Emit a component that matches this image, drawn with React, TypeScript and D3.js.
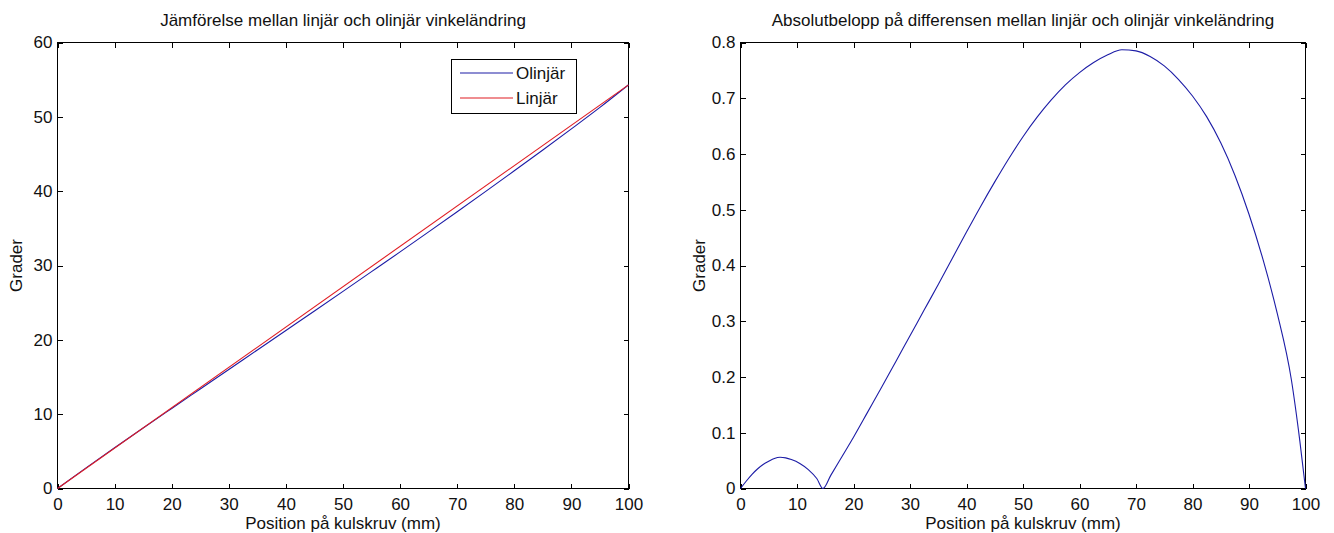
import React, { useEffect, useRef } from "react";
import * as d3 from "d3";

// ---- Data ----
const xTicks = [0, 10, 20, 30, 40, 50, 60, 70, 80, 90, 100];
const leftYTicks = [0, 10, 20, 30, 40, 50, 60];
const rightYTicks = [0, 0.1, 0.2, 0.3, 0.4, 0.5, 0.6, 0.7, 0.8];

// Linjär (straight line)
const linX = [0, 100];
const linY = [0, 54.3];

// Olinjär
const olinX = [0, 5, 10, 15, 20, 25, 30, 35, 40, 45, 50, 55, 60, 65, 70, 75, 80, 85, 90, 95, 100];
const olinY = [0, 2.77, 5.48, 8.14, 10.77, 13.39, 16.01, 18.64, 21.26, 23.88, 26.52, 29.17, 31.83, 34.52, 37.23, 39.97, 42.74, 45.54, 48.38, 51.27, 54.3];

// Absolute difference
const diffX = [0, 1, 2, 3, 4, 5, 6, 7, 8, 9, 10.5, 12, 13.5, 14.6, 16, 18, 20, 22.5, 25, 27.5, 30, 32.5, 35, 37.5, 40, 42.5, 45, 47.5, 50, 52.5, 55, 57.5, 60, 62.5, 65, 67.5, 70, 72.5, 75, 77.5, 80, 82.5, 85, 87.5, 90, 92.5, 95, 97.5, 99, 100];
const diffY = [0, 0.013, 0.025, 0.035, 0.043, 0.049, 0.054, 0.056, 0.055, 0.052, 0.045, 0.034, 0.018, 0, 0.024, 0.058, 0.092, 0.137, 0.182, 0.228, 0.274, 0.320, 0.366, 0.413, 0.460, 0.506, 0.550, 0.592, 0.631, 0.666, 0.697, 0.724, 0.746, 0.764, 0.778, 0.787, 0.785, 0.775, 0.758, 0.734, 0.704, 0.667, 0.620, 0.562, 0.492, 0.410, 0.314, 0.195, 0.085, 0];

const titleLeft = "Jämförelse mellan linjär och olinjär vinkeländring";
const titleRight = "Absolutbelopp på differensen mellan linjär och olinjär vinkeländring";
const xLabel = "Position på kulskruv (mm)";
const yLabel = "Grader";
const legendNames = ["Olinjär", "Linjär"];

const BLUE = "#1c1ca6";
const RED = "#e01c22";
const FONT = "'Liberation Sans', Arial, sans-serif";
const FS = 17;

export default function App() {
  const ref = useRef<SVGSVGElement | null>(null);

  useEffect(() => {
    const svg = d3.select(ref.current);
    svg.selectAll("*").remove();
    svg.append("rect").attr("width", 1334).attr("height", 533).attr("fill", "#fff");

    const drawPanel = (
      box: { l: number; r: number; t: number; b: number },
      yDomain: [number, number],
      yTicks: number[],
      yFmt: (v: number) => string,
      title: string
    ) => {
      const x = d3.scaleLinear().domain([0, 100]).range([box.l, box.r]);
      const y = d3.scaleLinear().domain(yDomain).range([box.b, box.t]);
      const g = svg.append("g");

      const style = (sel: any) => {
        sel.select(".domain").remove();
        sel.selectAll(".tick line").attr("stroke", "#000").attr("shape-rendering", "crispEdges");
        sel.selectAll(".tick text")
          .attr("font-family", FONT)
          .attr("font-size", FS)
          .attr("fill", "#111");
      };

      g.append("g").attr("transform", `translate(0,${box.b})`)
        .call(d3.axisBottom(x).tickValues(xTicks).tickSize(-5).tickPadding(9).tickFormat(d3.format("d")))
        .call(style);
      g.append("g").attr("transform", `translate(0,${box.t})`)
        .call(d3.axisTop(x).tickValues(xTicks).tickSize(-5).tickFormat(() => ""))
        .call(style);
      g.append("g").attr("transform", `translate(${box.l},0)`)
        .call(d3.axisLeft(y).tickValues(yTicks).tickSize(-5).tickPadding(5).tickFormat(yFmt as any))
        .call(style);
      g.append("g").attr("transform", `translate(${box.r},0)`)
        .call(d3.axisRight(y).tickValues(yTicks).tickSize(-5).tickFormat(() => ""))
        .call(style);

      g.append("rect")
        .attr("x", box.l).attr("y", box.t)
        .attr("width", box.r - box.l).attr("height", box.b - box.t)
        .attr("fill", "none").attr("stroke", "#000").attr("stroke-width", 1)
        .attr("shape-rendering", "crispEdges");

      g.append("text").attr("x", (box.l + box.r) / 2).attr("y", 26)
        .attr("text-anchor", "middle").attr("font-family", FONT).attr("font-size", FS)
        .attr("fill", "#111").text(title);
      g.append("text").attr("x", (box.l + box.r) / 2).attr("y", 529)
        .attr("text-anchor", "middle").attr("font-family", FONT).attr("font-size", FS)
        .attr("fill", "#111").text(xLabel);
      g.append("text")
        .attr("transform", `translate(${box.l - 36},${(box.t + box.b) / 2}) rotate(-90)`)
        .attr("text-anchor", "middle").attr("font-family", FONT).attr("font-size", FS)
        .attr("fill", "#111").text(yLabel);
      return { x, y, g };
    };

    // Left panel
    const L = drawPanel({ l: 57.5, r: 628.5, t: 42.5, b: 488.5 }, [0, 60], leftYTicks, d3.format("d"), titleLeft);
    const lineL = d3.line<[number, number]>().x((d) => L.x(d[0])).y((d) => L.y(d[1])).curve(d3.curveMonotoneX);
    L.g.append("path").datum(olinX.map((v, i) => [v, olinY[i]] as [number, number]))
      .attr("d", lineL).attr("fill", "none").attr("stroke", BLUE).attr("stroke-width", 1.1);
    L.g.append("path").datum(linX.map((v, i) => [v, linY[i]] as [number, number]))
      .attr("d", lineL).attr("fill", "none").attr("stroke", RED).attr("stroke-width", 1.1);

    // Legend
    const lg = L.g.append("g");
    lg.append("rect").attr("x", 451.5).attr("y", 59.5).attr("width", 125).attr("height", 54)
      .attr("fill", "#fff").attr("stroke", "#000").attr("shape-rendering", "crispEdges");
    [BLUE, RED].forEach((c, i) => {
      const yy = 73 + i * 25;
      lg.append("line").attr("x1", 460).attr("x2", 513).attr("y1", yy).attr("y2", yy)
        .attr("stroke", c).attr("stroke-width", 1.1);
      lg.append("text").attr("x", 516).attr("y", yy + 6).attr("font-family", FONT)
        .attr("font-size", FS).attr("fill", "#111").text(legendNames[i]);
    });

    // Right panel
    const R = drawPanel({ l: 740.5, r: 1305.5, t: 42.5, b: 488.5 }, [0, 0.8], rightYTicks, (v: number) => (v === 0 ? "0" : d3.format(".1f")(v)), titleRight);
    const lineR = d3.line<[number, number]>().x((d) => R.x(d[0])).y((d) => R.y(d[1])).curve(d3.curveMonotoneX);
    R.g.append("path").datum(diffX.map((v, i) => [v, diffY[i]] as [number, number]))
      .attr("d", lineR).attr("fill", "none").attr("stroke", BLUE).attr("stroke-width", 1.1);
  }, []);

  return (
    <svg
      ref={ref}
      width={1334}
      height={533}
      style={{ position: "absolute", left: 0, top: 0, display: "block" }}
    />
  );
}
